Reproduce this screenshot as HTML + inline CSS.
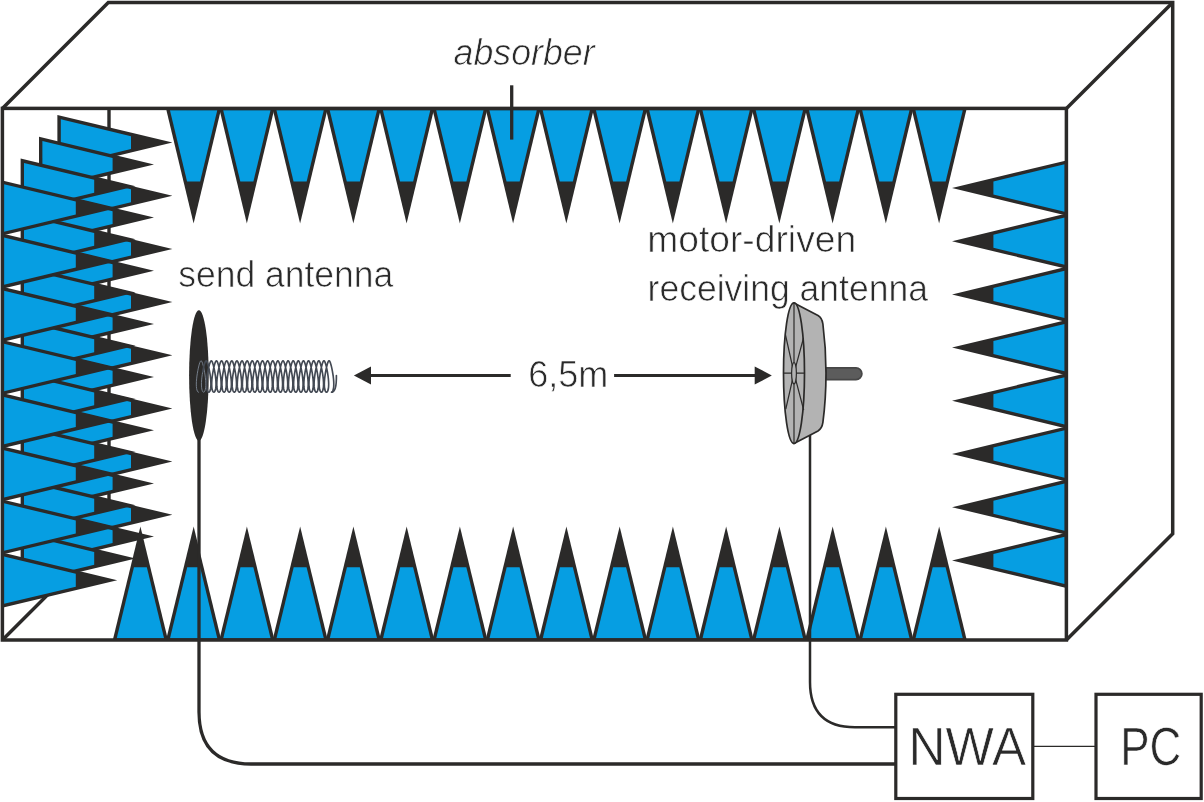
<!DOCTYPE html>
<html><head><meta charset="utf-8"><title>Antenna measurement chamber</title>
<style>html,body{margin:0;padding:0;background:#fff}svg{display:block}</style></head>
<body>
<svg width="1204" height="802" viewBox="0 0 1204 802">
<defs><filter id="gs" filterUnits="userSpaceOnUse" x="0" y="0" width="1204" height="802" color-interpolation-filters="sRGB"><feColorMatrix type="saturate" values="0"/></filter></defs>
<rect width="1204" height="802" fill="#fff"/>
<g fill="none" stroke="#2b2a29" stroke-width="3.4">
<path d="M109 108V536"/><path d="M2.4 640L108.5 534"/>
</g>
<g>
<polygon fill="#2b2a29" points="57.4,115 172.4,142.6 57.4,170.2"/>
<polygon fill="#069ee2" points="60.8,119.31 131,136.16 131,149.04 60.8,165.89"/>
<polygon fill="#2b2a29" points="57.4,168.17 172.4,195.77 57.4,223.37"/>
<polygon fill="#069ee2" points="60.8,172.48 131,189.33 131,202.21 60.8,219.06"/>
<polygon fill="#2b2a29" points="57.4,221.34 172.4,248.94 57.4,276.54"/>
<polygon fill="#069ee2" points="60.8,225.65 131,242.5 131,255.38 60.8,272.23"/>
<polygon fill="#2b2a29" points="57.4,274.51 172.4,302.11 57.4,329.71"/>
<polygon fill="#069ee2" points="60.8,278.82 131,295.67 131,308.55 60.8,325.4"/>
<polygon fill="#2b2a29" points="57.4,327.68 172.4,355.28 57.4,382.88"/>
<polygon fill="#069ee2" points="60.8,331.99 131,348.84 131,361.72 60.8,378.57"/>
<polygon fill="#2b2a29" points="57.4,380.85 172.4,408.45 57.4,436.05"/>
<polygon fill="#069ee2" points="60.8,385.16 131,402.01 131,414.89 60.8,431.74"/>
<polygon fill="#2b2a29" points="57.4,434.02 172.4,461.62 57.4,489.22"/>
<polygon fill="#069ee2" points="60.8,438.33 131,455.18 131,468.06 60.8,484.91"/>
<polygon fill="#2b2a29" points="57.4,487.19 172.4,514.79 57.4,542.39"/>
<polygon fill="#069ee2" points="60.8,491.5 131,508.35 131,521.23 60.8,538.08"/>
<polygon fill="#2b2a29" points="39,136.8 154,164.4 39,192"/>
<polygon fill="#069ee2" points="42.4,141.11 112.6,157.96 112.6,170.84 42.4,187.69"/>
<polygon fill="#2b2a29" points="39,189.97 154,217.57 39,245.17"/>
<polygon fill="#069ee2" points="42.4,194.28 112.6,211.13 112.6,224.01 42.4,240.86"/>
<polygon fill="#2b2a29" points="39,243.14 154,270.74 39,298.34"/>
<polygon fill="#069ee2" points="42.4,247.45 112.6,264.3 112.6,277.18 42.4,294.03"/>
<polygon fill="#2b2a29" points="39,296.31 154,323.91 39,351.51"/>
<polygon fill="#069ee2" points="42.4,300.62 112.6,317.47 112.6,330.35 42.4,347.2"/>
<polygon fill="#2b2a29" points="39,349.48 154,377.08 39,404.68"/>
<polygon fill="#069ee2" points="42.4,353.79 112.6,370.64 112.6,383.52 42.4,400.37"/>
<polygon fill="#2b2a29" points="39,402.65 154,430.25 39,457.85"/>
<polygon fill="#069ee2" points="42.4,406.96 112.6,423.81 112.6,436.69 42.4,453.54"/>
<polygon fill="#2b2a29" points="39,455.82 154,483.42 39,511.02"/>
<polygon fill="#069ee2" points="42.4,460.13 112.6,476.98 112.6,489.86 42.4,506.71"/>
<polygon fill="#2b2a29" points="39,508.99 154,536.59 39,564.19"/>
<polygon fill="#069ee2" points="42.4,513.3 112.6,530.15 112.6,543.03 42.4,559.88"/>
<polygon fill="#2b2a29" points="20.6,158.6 135.6,186.2 20.6,213.8"/>
<polygon fill="#069ee2" points="24,162.91 94.2,179.76 94.2,192.64 24,209.49"/>
<polygon fill="#2b2a29" points="20.6,211.77 135.6,239.37 20.6,266.97"/>
<polygon fill="#069ee2" points="24,216.08 94.2,232.93 94.2,245.81 24,262.66"/>
<polygon fill="#2b2a29" points="20.6,264.94 135.6,292.54 20.6,320.14"/>
<polygon fill="#069ee2" points="24,269.25 94.2,286.1 94.2,298.98 24,315.83"/>
<polygon fill="#2b2a29" points="20.6,318.11 135.6,345.71 20.6,373.31"/>
<polygon fill="#069ee2" points="24,322.42 94.2,339.27 94.2,352.15 24,369"/>
<polygon fill="#2b2a29" points="20.6,371.28 135.6,398.88 20.6,426.48"/>
<polygon fill="#069ee2" points="24,375.59 94.2,392.44 94.2,405.32 24,422.17"/>
<polygon fill="#2b2a29" points="20.6,424.45 135.6,452.05 20.6,479.65"/>
<polygon fill="#069ee2" points="24,428.76 94.2,445.61 94.2,458.49 24,475.34"/>
<polygon fill="#2b2a29" points="20.6,477.62 135.6,505.22 20.6,532.82"/>
<polygon fill="#069ee2" points="24,481.93 94.2,498.78 94.2,511.66 24,528.51"/>
<polygon fill="#2b2a29" points="20.6,530.79 135.6,558.39 20.6,585.99"/>
<polygon fill="#069ee2" points="24,535.1 94.2,551.95 94.2,564.83 24,581.68"/>
<polygon fill="#2b2a29" points="2.2,180.4 117.2,208 2.2,235.6"/>
<polygon fill="#069ee2" points="4,184.33 75.8,201.56 75.8,214.44 4,231.67"/>
<polygon fill="#2b2a29" points="2.2,233.57 117.2,261.17 2.2,288.77"/>
<polygon fill="#069ee2" points="4,237.5 75.8,254.73 75.8,267.61 4,284.84"/>
<polygon fill="#2b2a29" points="2.2,286.74 117.2,314.34 2.2,341.94"/>
<polygon fill="#069ee2" points="4,290.67 75.8,307.9 75.8,320.78 4,338.01"/>
<polygon fill="#2b2a29" points="2.2,339.91 117.2,367.51 2.2,395.11"/>
<polygon fill="#069ee2" points="4,343.84 75.8,361.07 75.8,373.95 4,391.18"/>
<polygon fill="#2b2a29" points="2.2,393.08 117.2,420.68 2.2,448.28"/>
<polygon fill="#069ee2" points="4,397.01 75.8,414.24 75.8,427.12 4,444.35"/>
<polygon fill="#2b2a29" points="2.2,446.25 117.2,473.85 2.2,501.45"/>
<polygon fill="#069ee2" points="4,450.18 75.8,467.41 75.8,480.29 4,497.52"/>
<polygon fill="#2b2a29" points="2.2,499.42 117.2,527.02 2.2,554.62"/>
<polygon fill="#069ee2" points="4,503.35 75.8,520.58 75.8,533.46 4,550.69"/>
<polygon fill="#2b2a29" points="2.2,552.59 117.2,580.19 2.2,607.79"/>
<polygon fill="#069ee2" points="4,556.52 75.8,573.75 75.8,586.63 4,603.86"/>
</g>
<g>
<polygon fill="#2b2a29" points="221.2,108.4 193.6,223.4 166,108.4"/>
<polygon fill="#069ee2" points="217.27,110.2 200.14,181.6 187.06,181.6 169.93,110.2"/>
<polygon fill="#2b2a29" points="274.45,108.4 246.85,223.4 219.25,108.4"/>
<polygon fill="#069ee2" points="270.52,110.2 253.39,181.6 240.31,181.6 223.18,110.2"/>
<polygon fill="#2b2a29" points="327.7,108.4 300.1,223.4 272.5,108.4"/>
<polygon fill="#069ee2" points="323.77,110.2 306.64,181.6 293.56,181.6 276.43,110.2"/>
<polygon fill="#2b2a29" points="380.95,108.4 353.35,223.4 325.75,108.4"/>
<polygon fill="#069ee2" points="377.02,110.2 359.89,181.6 346.81,181.6 329.68,110.2"/>
<polygon fill="#2b2a29" points="434.2,108.4 406.6,223.4 379,108.4"/>
<polygon fill="#069ee2" points="430.27,110.2 413.14,181.6 400.06,181.6 382.93,110.2"/>
<polygon fill="#2b2a29" points="487.45,108.4 459.85,223.4 432.25,108.4"/>
<polygon fill="#069ee2" points="483.52,110.2 466.39,181.6 453.31,181.6 436.18,110.2"/>
<polygon fill="#2b2a29" points="540.7,108.4 513.1,223.4 485.5,108.4"/>
<polygon fill="#069ee2" points="536.77,110.2 519.64,181.6 506.56,181.6 489.43,110.2"/>
<polygon fill="#2b2a29" points="593.95,108.4 566.35,223.4 538.75,108.4"/>
<polygon fill="#069ee2" points="590.02,110.2 572.89,181.6 559.81,181.6 542.68,110.2"/>
<polygon fill="#2b2a29" points="647.2,108.4 619.6,223.4 592,108.4"/>
<polygon fill="#069ee2" points="643.27,110.2 626.14,181.6 613.06,181.6 595.93,110.2"/>
<polygon fill="#2b2a29" points="700.45,108.4 672.85,223.4 645.25,108.4"/>
<polygon fill="#069ee2" points="696.52,110.2 679.39,181.6 666.31,181.6 649.18,110.2"/>
<polygon fill="#2b2a29" points="753.7,108.4 726.1,223.4 698.5,108.4"/>
<polygon fill="#069ee2" points="749.77,110.2 732.64,181.6 719.56,181.6 702.43,110.2"/>
<polygon fill="#2b2a29" points="806.95,108.4 779.35,223.4 751.75,108.4"/>
<polygon fill="#069ee2" points="803.02,110.2 785.89,181.6 772.81,181.6 755.68,110.2"/>
<polygon fill="#2b2a29" points="860.2,108.4 832.6,223.4 805,108.4"/>
<polygon fill="#069ee2" points="856.27,110.2 839.14,181.6 826.06,181.6 808.93,110.2"/>
<polygon fill="#2b2a29" points="913.45,108.4 885.85,223.4 858.25,108.4"/>
<polygon fill="#069ee2" points="909.52,110.2 892.39,181.6 879.31,181.6 862.18,110.2"/>
<polygon fill="#2b2a29" points="966.7,108.4 939.1,223.4 911.5,108.4"/>
<polygon fill="#069ee2" points="962.77,110.2 945.64,181.6 932.56,181.6 915.43,110.2"/>
</g><g>
<polygon fill="#2b2a29" points="112.8,640 140.4,526.4 168,640"/>
<polygon fill="#069ee2" points="116.74,638.2 133.96,567.3 146.84,567.3 164.06,638.2"/>
<polygon fill="#2b2a29" points="166.05,640 193.65,526.4 221.25,640"/>
<polygon fill="#069ee2" points="169.99,638.2 187.21,567.3 200.09,567.3 217.31,638.2"/>
<polygon fill="#2b2a29" points="219.3,640 246.9,526.4 274.5,640"/>
<polygon fill="#069ee2" points="223.24,638.2 240.46,567.3 253.34,567.3 270.56,638.2"/>
<polygon fill="#2b2a29" points="272.55,640 300.15,526.4 327.75,640"/>
<polygon fill="#069ee2" points="276.49,638.2 293.71,567.3 306.59,567.3 323.81,638.2"/>
<polygon fill="#2b2a29" points="325.8,640 353.4,526.4 381,640"/>
<polygon fill="#069ee2" points="329.74,638.2 346.96,567.3 359.84,567.3 377.06,638.2"/>
<polygon fill="#2b2a29" points="379.05,640 406.65,526.4 434.25,640"/>
<polygon fill="#069ee2" points="382.99,638.2 400.21,567.3 413.09,567.3 430.31,638.2"/>
<polygon fill="#2b2a29" points="432.3,640 459.9,526.4 487.5,640"/>
<polygon fill="#069ee2" points="436.24,638.2 453.46,567.3 466.34,567.3 483.56,638.2"/>
<polygon fill="#2b2a29" points="485.55,640 513.15,526.4 540.75,640"/>
<polygon fill="#069ee2" points="489.49,638.2 506.71,567.3 519.59,567.3 536.81,638.2"/>
<polygon fill="#2b2a29" points="538.8,640 566.4,526.4 594,640"/>
<polygon fill="#069ee2" points="542.74,638.2 559.96,567.3 572.84,567.3 590.06,638.2"/>
<polygon fill="#2b2a29" points="592.05,640 619.65,526.4 647.25,640"/>
<polygon fill="#069ee2" points="595.99,638.2 613.21,567.3 626.09,567.3 643.31,638.2"/>
<polygon fill="#2b2a29" points="645.3,640 672.9,526.4 700.5,640"/>
<polygon fill="#069ee2" points="649.24,638.2 666.46,567.3 679.34,567.3 696.56,638.2"/>
<polygon fill="#2b2a29" points="698.55,640 726.15,526.4 753.75,640"/>
<polygon fill="#069ee2" points="702.49,638.2 719.71,567.3 732.59,567.3 749.81,638.2"/>
<polygon fill="#2b2a29" points="751.8,640 779.4,526.4 807,640"/>
<polygon fill="#069ee2" points="755.74,638.2 772.96,567.3 785.84,567.3 803.06,638.2"/>
<polygon fill="#2b2a29" points="805.05,640 832.65,526.4 860.25,640"/>
<polygon fill="#069ee2" points="808.99,638.2 826.21,567.3 839.09,567.3 856.31,638.2"/>
<polygon fill="#2b2a29" points="858.3,640 885.9,526.4 913.5,640"/>
<polygon fill="#069ee2" points="862.24,638.2 879.46,567.3 892.34,567.3 909.56,638.2"/>
<polygon fill="#2b2a29" points="911.55,640 939.15,526.4 966.75,640"/>
<polygon fill="#069ee2" points="915.49,638.2 932.71,567.3 945.59,567.3 962.81,638.2"/>
</g><g>
<polygon fill="#2b2a29" points="1066.4,215.6 952,188 1066.4,160.4"/>
<polygon fill="#069ee2" points="1064.6,211.67 993.4,194.49 993.4,181.51 1064.6,164.33"/>
<polygon fill="#2b2a29" points="1066.4,268.8 952,241.2 1066.4,213.6"/>
<polygon fill="#069ee2" points="1064.6,264.87 993.4,247.69 993.4,234.71 1064.6,217.53"/>
<polygon fill="#2b2a29" points="1066.4,322 952,294.4 1066.4,266.8"/>
<polygon fill="#069ee2" points="1064.6,318.07 993.4,300.89 993.4,287.91 1064.6,270.73"/>
<polygon fill="#2b2a29" points="1066.4,375.2 952,347.6 1066.4,320"/>
<polygon fill="#069ee2" points="1064.6,371.27 993.4,354.09 993.4,341.11 1064.6,323.93"/>
<polygon fill="#2b2a29" points="1066.4,428.4 952,400.8 1066.4,373.2"/>
<polygon fill="#069ee2" points="1064.6,424.47 993.4,407.29 993.4,394.31 1064.6,377.13"/>
<polygon fill="#2b2a29" points="1066.4,481.6 952,454 1066.4,426.4"/>
<polygon fill="#069ee2" points="1064.6,477.67 993.4,460.49 993.4,447.51 1064.6,430.33"/>
<polygon fill="#2b2a29" points="1066.4,534.8 952,507.2 1066.4,479.6"/>
<polygon fill="#069ee2" points="1064.6,530.87 993.4,513.69 993.4,500.71 1064.6,483.53"/>
<polygon fill="#2b2a29" points="1066.4,588 952,560.4 1066.4,532.8"/>
<polygon fill="#069ee2" points="1064.6,584.07 993.4,566.89 993.4,553.91 1064.6,536.73"/>
</g>
<g fill="none" stroke="#2b2a29" stroke-width="3.5" stroke-linejoin="miter">
<rect x="2.4" y="108.4" width="1064" height="531.6"/>
<path d="M2.4 108.4L108.3 2.4H1172.7V533.8L1066.4 640"/>
<path d="M1066.4 108.4L1172.7 2.4"/>
</g>
<path d="M511.7 85.3V139.6" stroke="#2b2a29" stroke-width="3.3" fill="none"/>
<g fill="none" stroke="#2b2a29">
<path stroke-width="3.3" d="M199 436V712Q199 764 251 764H895"/>
<path stroke-width="2.5" d="M810 432V682Q810 727.3 855 727.3H895"/>
<path stroke-width="1.2" d="M1034 746.3H1095"/>
</g>
<g fill="#fff" stroke="#2b2a29" stroke-width="3.2">
<rect x="895.8" y="694.3" width="137" height="104.2"/>
<rect x="1096" y="694.3" width="105.2" height="104.2"/>
</g>
<ellipse cx="198.9" cy="375.4" rx="9.8" ry="65.2" fill="#2b2a29"/>
<path d="M198.5 392.2L197.92 391.95L197.39 391.22L196.94 390.02L196.59 388.4L196.39 386.41L196.32 384.1L196.4 381.56L196.61 378.85L196.94 376.07L197.35 373.31L197.82 370.64L198.32 368.16L198.83 365.94L199.34 364.06L199.83 362.56L200.3 361.5L200.75 360.92L201.2 360.82L201.65 361.22L202.11 362.1L202.59 363.43L203.09 365.17L203.6 367.27L204.11 369.66L204.6 372.26L205.03 375L205.39 377.79L205.65 380.53L205.78 383.15L205.78 385.55L205.62 387.68L205.33 389.45L204.92 390.81L204.41 391.73L203.84 392.16L203.26 392.11L202.71 391.56L202.22 390.54L201.83 389.07L201.57 387.22L201.45 385.02L201.47 382.56L201.64 379.9L201.92 377.14L202.3 374.36L202.75 371.65" fill="none" stroke="#7d8794" stroke-width="0.9" stroke-linejoin="round" stroke-linecap="round"/>
<path d="M202.75 371.65L203.24 369.13L203.74 366.83L204.24 364.83L204.73 363.18L205.2 361.94L205.65 361.14L206.09 360.81L206.53 360.95L206.98 361.57L207.44 362.64L207.92 364.13L208.42 366L208.93 368.19L209.42 370.63L209.88 373.24L210.29 375.96L210.61 378.7L210.83 381.36L210.92 383.88L210.87 386.18L210.68 388.18L210.36 389.82L209.93 391.06L209.41 391.86L208.85 392.19L208.28 392.04L207.74 391.43L207.28 390.35L206.91 388.86L206.67 386.99L206.57 384.8L206.6 382.36L206.77 379.74L207.05 377.03L207.43 374.29L207.87 371.63L208.36 369.11L208.86 366.82L209.36 364.82L209.85 363.17L210.32 361.93L210.77 361.14L211.22 360.81L211.66 360.96L212.1 361.58L212.57 362.65L213.05 364.15L213.55 366.02L214.05 368.21L214.54 370.65L215.01 373.27L215.41 375.98L215.73 378.72L215.95 381.38L216.04 383.9L215.99 386.19L215.8 388.19L215.48 389.83L215.04 391.07L214.53 391.86L213.97 392.19L213.4 392.04L212.86 391.42L212.39 390.34L212.03 388.85L211.79 386.98L211.69 384.78L211.72 382.34L211.89 379.72L212.18 377L212.55 374.27L213 371.61L213.48 369.09L213.99 366.8L214.49 364.8L214.98 363.16L215.45 361.93L215.9 361.13L216.34 360.81L216.78 360.96L217.23 361.58L217.69 362.66L218.17 364.16L218.67 366.03L219.17 368.22L219.67 370.67L220.13 373.29L220.54 376.01L220.86 378.74L221.07 381.4L221.16 383.92L221.11 386.21L220.91 388.21L220.59 389.84L220.16 391.08L219.64 391.87L219.08 392.19L218.51 392.04L217.98 391.41L217.51 390.33L217.15 388.83L216.91 386.96L216.81 384.77L216.84 382.32L217.01 379.7L217.3 376.98L217.68 374.25L218.12 371.59L218.61 369.07L219.11 366.78L219.61 364.79L220.1 363.15L220.57 361.92L221.02 361.13L221.46 360.81L221.9 360.96L222.35 361.59L222.81 362.67L223.3 364.17L223.79 366.05L224.3 368.24L224.79 370.69L225.25 373.31L225.66 376.03L225.98 378.76L226.19 381.43L226.28 383.94L226.22 386.23L226.03 388.22L225.71 389.86L225.28 391.09L224.76 391.87L224.2 392.19L223.63 392.04L223.09 391.41L222.63 390.32L222.26 388.82L222.03 386.94L221.93 384.75L221.96 382.3L222.14 379.68L222.42 376.96L222.8 374.23L223.25 371.56L223.73 369.05L224.23 366.76L224.74 364.77L225.22 363.14L225.69 361.91L226.15 361.12L226.59 360.81L227.03 360.97L227.48 361.6L227.94 362.68L228.42 364.19L228.92 366.07L229.42 368.26L229.92 370.71L230.38 373.33L230.78 376.05L231.1 378.78L231.31 381.45L231.4 383.96L231.34 386.25L231.15 388.24L230.83 389.87L230.39 391.1L229.88 391.88L229.31 392.19L228.74 392.03L228.21 391.4L227.74 390.31L227.38 388.81L227.14 386.93L227.05 384.73L227.09 382.28L227.26 379.66L227.54 376.94L227.92 374.21L228.37 371.54L228.86 369.03L229.36 366.75L229.86 364.76L230.35 363.13L230.82 361.9L231.27 361.12L231.71 360.81L232.15 360.97L232.6 361.6L233.06 362.69L233.54 364.2L234.04 366.08L234.55 368.28L235.04 370.73L235.5 373.35L235.9 376.07L236.22 378.81L236.43 381.47L236.52 383.98L236.46 386.26L236.27 388.25L235.94 389.88L235.51 391.1L234.99 391.88L234.43 392.19L233.86 392.03L233.32 391.39L232.86 390.3L232.5 388.79L232.26 386.91L232.16 384.71L232.21 382.26L232.38 379.64L232.67 376.92L233.05 374.18L233.49 371.52L233.98 369.01L234.48 366.73L234.98 364.74L235.47 363.11L235.94 361.89L236.39 361.12L236.83 360.81L237.27 360.97L237.72 361.61L238.19 362.7L238.67 364.21L239.17 366.1L239.67 368.3L240.16 370.75L240.62 373.38L241.03 376.1L241.35 378.83L241.55 381.49L241.64 384L241.58 386.28L241.39 388.26L241.06 389.89L240.62 391.11L240.11 391.89L239.54 392.19L238.97 392.03L238.44 391.38L237.98 390.29L237.62 388.78L237.38 386.89L237.28 384.69L237.33 382.24L237.5 379.61L237.79 376.89L238.17 374.16L238.62 371.5L239.1 368.99L239.61 366.71L240.11 364.73L240.59 363.1L241.06 361.88L241.52 361.11L241.96 360.8L242.4 360.98L242.85 361.62L243.31 362.71L243.79 364.23L244.29 366.12L244.79 368.32L245.29 370.77L245.75 373.4L246.15 376.12L246.47 378.85L246.68 381.51L246.76 384.02L246.7 386.3L246.5 388.28L246.18 389.9L245.74 391.12L245.22 391.89L244.66 392.2L244.09 392.02L243.56 391.38L243.09 390.28L242.73 388.76L242.5 386.88L242.4 384.67L242.45 382.22L242.62 379.59L242.91 376.87L243.29 374.14L243.74 371.48L244.23 368.97L244.73 366.69L245.23 364.71L245.72 363.09L246.19 361.88L246.64 361.11L247.08 360.8L247.52 360.98L247.97 361.63L248.43 362.72L248.92 364.24L249.42 366.13L249.92 368.34L250.41 370.79L250.87 373.42L251.27 376.14L251.59 378.87L251.8 381.53L251.88 384.04L251.82 386.31L251.62 388.29L251.29 389.91L250.86 391.13L250.34 391.9L249.77 392.2L249.21 392.02L248.67 391.37L248.21 390.27L247.85 388.75L247.62 386.86L247.52 384.65L247.57 382.2L247.75 379.57L248.04 376.85L248.42 374.12L248.86 371.46L249.35 368.95L249.85 366.68L250.36 364.7L250.84 363.08L251.31 361.87L251.76 361.1L252.2 360.8L252.65 360.98L253.09 361.63L253.56 362.74L254.04 364.26L254.54 366.15L255.04 368.36L255.54 370.81L256 373.44L256.4 376.16L256.71 378.89L256.92 381.55L257 384.06L256.94 386.33L256.74 388.31L256.41 389.93L255.97 391.14L255.45 391.9L254.89 392.2L254.32 392.02L253.79 391.36L253.33 390.26L252.97 388.74L252.74 386.84L252.64 384.63L252.69 382.18L252.87 379.55L253.16 376.83L253.54 374.1L253.99 371.44L254.48 368.93L254.98 366.66L255.48 364.68L255.97 363.07L256.44 361.86L256.89 361.1L257.33 360.8L257.77 360.99L258.22 361.64L258.68 362.75L259.16 364.27L259.66 366.17L260.17 368.38L260.66 370.83L261.12 373.46L261.52 376.18L261.83 378.91L262.04 381.57L262.12 384.08L262.06 386.35L261.86 388.32L261.53 389.94L261.09 391.14L260.57 391.9L260.01 392.2L259.44 392.01L258.9 391.36L258.44 390.25L258.09 388.72L257.86 386.83L257.76 384.61L257.81 382.16L257.99 379.53L258.28 376.81L258.66 374.07L259.11 371.42L259.6 368.91L260.1 366.64L260.6 364.67L261.09 363.06L261.56 361.85L262.01 361.09L262.45 360.8L262.89 360.99L263.34 361.65L263.81 362.76L264.29 364.28L264.79 366.18L265.29 368.4L265.78 370.85L266.24 373.48L266.64 376.21L266.96 378.94L267.16 381.59L267.24 384.1L267.18 386.37L266.98 388.34L266.64 389.95L266.2 391.15L265.68 391.91L265.12 392.2L264.55 392.01L264.02 391.35L263.56 390.24L263.2 388.71L262.97 386.81L262.88 384.6L262.93 382.14L263.11 379.51L263.4 376.78L263.79 374.05L264.24 371.4L264.72 368.89L265.23 366.62L265.73 364.65L266.21 363.05L266.68 361.84L267.13 361.09L267.58 360.8L268.02 360.99L268.46 361.65L268.93 362.77L269.41 364.3L269.91 366.2L270.42 368.41L270.91 370.87L271.37 373.51L271.76 376.23L272.08 378.96L272.28 381.61L272.36 384.12L272.3 386.38L272.09 388.35L271.76 389.96L271.32 391.16L270.8 391.91L270.24 392.2L269.67 392.01L269.14 391.34L268.68 390.23L268.32 388.69L268.09 386.79L268 384.58L268.05 382.12L268.23 379.48L268.53 376.76L268.91 374.03L269.36 371.37L269.85 368.88L270.35 366.61L270.85 364.64L271.34 363.03L271.81 361.84L272.26 361.08L272.7 360.8L273.14 361L273.59 361.66L274.05 362.78L274.54 364.31L275.04 366.22L275.54 368.43L276.03 370.9L276.49 373.53L276.89 376.25L277.2 378.98L277.4 381.64L277.48 384.13L277.41 386.4L277.21 388.37L276.88 389.97L276.44 391.17L275.92 391.92L275.35 392.2L274.78 392L274.25 391.33L273.79 390.22L273.44 388.68L273.21 386.78L273.12 384.56L273.17 382.09L273.36 379.46L273.65 376.74L274.03 374.01L274.48 371.35L274.97 368.86L275.47 366.59L275.98 364.63L276.46 363.02L276.93 361.83L277.38 361.08L277.82 360.8L278.26 361L278.71 361.67L279.18 362.79L279.66 364.33L280.16 366.23L280.66 368.45L281.16 370.92L281.61 373.55L282.01 376.27L282.32 379L282.52 381.66L282.6 384.15L282.53 386.42L282.33 388.38L282 389.98L281.55 391.18L281.03 391.92L280.47 392.2L279.9 392L279.37 391.33L278.91 390.21L278.56 388.67L278.33 386.76L278.24 384.54L278.29 382.07L278.48 379.44L278.77 376.72L279.16 373.99L279.61 371.33L280.1 368.84L280.6 366.57L281.1 364.61L281.59 363.01L282.05 361.82L282.51 361.08L282.95 360.8L283.39 361L283.84 361.68L284.3 362.8L284.78 364.34L285.28 366.25L285.79 368.47L286.28 370.94L286.74 373.57L287.13 376.29L287.44 379.02L287.65 381.68L287.72 384.17L287.65 386.44L287.45 388.4L287.11 389.99L286.67 391.18L286.15 391.93L285.58 392.2L285.01 391.99L284.48 391.32L284.03 390.19L283.67 388.65L283.45 386.74L283.36 384.52L283.42 382.05L283.6 379.42L283.9 376.69L284.28 373.96L284.73 371.31L285.22 368.82L285.72 366.56L286.22 364.6L286.71 363L287.18 361.81L287.63 361.07L288.07 360.8L288.51 361.01L288.96 361.68L289.42 362.81L289.91 364.35L290.41 366.27L290.91 368.49L291.4 370.96L291.86 373.59L292.26 376.32L292.57 379.05L292.77 381.7L292.84 384.19L292.77 386.45L292.56 388.41L292.23 390.01L291.79 391.19L291.26 391.93L290.7 392.2L290.13 391.99L289.6 391.31L289.14 390.18L288.79 388.64L288.57 386.72L288.48 384.5L288.54 382.03L288.72 379.4L289.02 376.67L289.4 373.94L289.86 371.29L290.34 368.8L290.85 366.54L291.35 364.58L291.83 362.99L292.3 361.81L292.75 361.07L293.19 360.8L293.63 361.01L294.08 361.69L294.55 362.82L295.03 364.37L295.53 366.28L296.04 368.51L296.53 370.98L296.98 373.61L297.38 376.34L297.69 379.07L297.89 381.72L297.96 384.21L297.89 386.47L297.68 388.42L297.35 390.02L296.9 391.2L296.38 391.93L295.81 392.2L295.24 391.99L294.71 391.31L294.26 390.17L293.91 388.62L293.69 386.71L293.6 384.48L293.66 382.01L293.84 379.37L294.14 376.65L294.53 373.92L294.98 371.27L295.47 368.78L295.97 366.52L296.47 364.57L296.96 362.98L297.43 361.8L297.88 361.06L298.32 360.8L298.76 361.01L299.21 361.7L299.67 362.83L300.16 364.38L300.66 366.3L301.16 368.53L301.65 371L302.11 373.64L302.5 376.36L302.81 379.09L303.01 381.74L303.08 384.23L303.01 386.49L302.8 388.44L302.46 390.03L302.02 391.21L301.49 391.94L300.93 392.2L300.36 391.98L299.83 391.3L299.38 390.16L299.03 388.61L298.81 386.69L298.72 384.46L298.78 381.99L298.96 379.35L299.26 376.63L299.65 373.9L300.1 371.25L300.59 368.76L301.1 366.5L301.6 364.55L302.08 362.97L302.55 361.79L303 361.06L303.44 360.8L303.88 361.02L304.33 361.71L304.8 362.84L305.28 364.4L305.78 366.32L306.28 368.55L306.77 371.02L307.23 373.66L307.62 376.38L307.93 379.11L308.13 381.76L308.2 384.25L308.13 386.5L307.92 388.45L307.58 390.04L307.13 391.21L306.61 391.94L306.04 392.2L305.48 391.98L304.95 391.29L304.49 390.15L304.15 388.6L303.92 386.67L303.84 384.44L303.9 381.97L304.09 379.33L304.39 376.61L304.78 373.88L305.23 371.23L305.72 368.74L306.22 366.49L306.72 364.54L307.21 362.95L307.67 361.78L308.12 361.06L308.56 360.8L309 361.02L309.45 361.71L309.92 362.85L310.4 364.41L310.9 366.33L311.41 368.57L311.9 371.04L312.35 373.68L312.75 376.41L313.05 379.13L313.25 381.78L313.32 384.27L313.25 386.52L313.04 388.47L312.7 390.05L312.25 391.22L311.72 391.95L311.16 392.2L310.59 391.98L310.06 391.28L309.61 390.14L309.26 388.58L309.04 386.66L308.96 384.42L309.02 381.95L309.21 379.31L309.51 376.58L309.9 373.86L310.35 371.21L310.84 368.72L311.34 366.47L311.84 364.52L312.33 362.94L312.8 361.77L313.25 361.05L313.69 360.8L314.13 361.03L314.58 361.72L315.04 362.87L315.53 364.42L316.03 366.35L316.53 368.59L317.02 371.06L317.48 373.7L317.87 376.43L318.18 379.16L318.37 381.8L318.44 384.29L318.36 386.54L318.15 388.48L317.81 390.06L317.37 391.23L316.84 391.95L316.27 392.2L315.71 391.97L315.18 391.28L314.73 390.13L314.38 388.57L314.16 386.64L314.08 384.4L314.14 381.93L314.33 379.29L314.63 376.56L315.02 373.83L315.47 371.19L315.96 368.7L316.47 366.45L316.97 364.51L317.45 362.93L317.92 361.77L318.37 361.05L318.81 360.8L319.25 361.03L319.7 361.73L320.17 362.88L320.65 364.44L321.15 366.37L321.66 368.61L322.15 371.08L322.6 373.72L322.99 376.45L323.3 379.18L323.49 381.82L323.56 384.31L323.48 386.56L323.27 388.5L322.93 390.07L322.48 391.24L321.96 391.95L321.39 392.2L320.82 391.97L320.29 391.27L319.84 390.12L319.5 388.55L319.28 386.62L319.2 384.39L319.26 381.91L319.45 379.27L319.76 376.54L320.15 373.81L320.6 371.17L321.09 368.68L321.59 366.44L322.09 364.5L322.58 362.92L323.04 361.76L323.49 361.04L323.93 360.8L324.38 361.03L324.83 361.74L325.29 362.89L325.78 364.45L326.28 366.39L326.78 368.62L327.27 371.1L327.72 373.75L328.12 376.47L328.42 379.2L328.61 381.84L328.68 384.33L328.6 386.57L328.39 388.51L328.05 390.08L327.6 391.25L327.07 391.96L326.5 392.2L325.94 391.97L325.41 391.26L324.96 390.11L324.62 388.54L324.4 386.61L324.32 384.37L324.38 381.89L324.58 379.24L324.88 376.52L325.27 373.79L325.72 371.14L326.21 368.66L326.72 366.42L327.22 364.48L327.7 362.91L328.17 361.75L328.62 361.04L329.06 360.8L329.5 361.04L329.95 361.74L330.42 362.9L330.9 364.47L331.4 366.4L331.9 368.64L332.39 371.12L332.85 373.77L333.24 376.49L333.54 379.22L333.74 381.87L333.8 384.35L333.72 386.59L333.51 388.53L333.16 390.1L332.71 391.25L332.19 391.96L331.62 392.2" fill="none" stroke="#434953" stroke-width="1.65" stroke-linejoin="round" stroke-linecap="round"/>
<path d="M331.62 392.2Q336.62 392.2 336.4 375.5" fill="none" stroke="#434953" stroke-width="1.65" stroke-linecap="round"/>
<g stroke="#2b2a29" stroke-width="1.7" stroke-linejoin="round">
<path d="M826 367.8H856a5.9 5.9 0 0 1 0 11.8H826z" fill="#5c5c5c" stroke="#474747"/>
<path d="M794 303L818 315.5Q822 317.8 822.9 324Q826 348 826 373.1Q826 399 822.9 422.4Q822 428.6 818 430.9L794 443.5z" fill="#b3b3b3"/>
<ellipse cx="794" cy="373.2" rx="10.5" ry="70.3" fill="#b3b3b3"/>
<g fill="none" stroke-width="1.2">
<path d="M794 303V443.5M783.5 373.2H804.5M785.5 335L794 373.2L803.7 410M803.5 338L794 373.2L785.8 409"/>
<ellipse cx="794" cy="373.2" rx="2.4" ry="10.7" fill="#b3b3b3"/>
</g></g>
<g fill="#2b2a29" stroke="none">
<path d="M353.9 375.5L371 366.4V384.6z"/><rect x="370" y="374" width="140.7" height="3"/>
<path d="M771.8 375.5L754.7 366.4V384.6z"/><rect x="614.1" y="374" width="141.6" height="3"/>
</g>
<g font-family="'Liberation Sans', sans-serif" fill="#2b2a29" stroke="#fff" stroke-width="0.7" filter="url(#gs)">
<text x="453.6" y="64.9" font-size="36" font-style="italic" textLength="141" lengthAdjust="spacingAndGlyphs">absorber</text>
<text x="178.2" y="286.6" font-size="37" textLength="215" lengthAdjust="spacingAndGlyphs">send antenna</text>
<text x="647.2" y="251.7" font-size="37" textLength="209" lengthAdjust="spacingAndGlyphs">motor-driven</text>
<text x="647.6" y="301.4" font-size="37" textLength="280.3" lengthAdjust="spacingAndGlyphs">receiving antenna</text>
<text x="528.2" y="386.9" font-size="37" textLength="80.2" lengthAdjust="spacingAndGlyphs">6,5m</text>
<text x="908.6" y="764.8" font-size="54" textLength="117.6" lengthAdjust="spacingAndGlyphs">NWA</text>
<text x="1120.2" y="764.8" font-size="54" textLength="61" lengthAdjust="spacingAndGlyphs">PC</text>
</g>
</svg>
</body></html>
